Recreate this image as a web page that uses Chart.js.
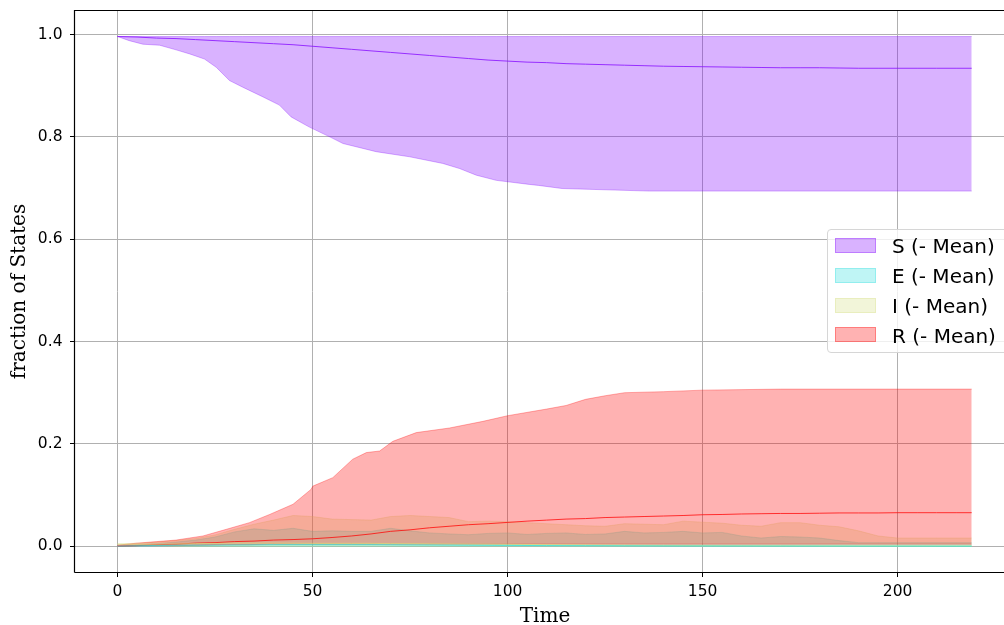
<!DOCTYPE html>
<html>
<head>
<meta charset="utf-8">
<title>SEIR runs</title>
<script src="https://cdn.jsdelivr.net/npm/chart.js"></script>
<style>
  html, body { margin: 0; padding: 0; background: #fff; overflow: hidden; }
  #wrap { position: relative; width: 1015px; height: 625px; }
  #legend {
    position: absolute; left: 827px; top: 229px; width: 200px; height: 124px;
    box-sizing: border-box; border: 1px solid #d6d6d6; border-radius: 4px;
    background: rgba(255, 255, 255, 0.8);
    font-family: 'DejaVu Sans', sans-serif; font-size: 20px; color: #000;
  }
  #legend .sw { position: absolute; left: 7px; width: 41px; height: 15px; box-sizing: border-box; border: 1px solid; }
  #legend .lbl { position: absolute; left: 64px; line-height: 21px; white-space: nowrap; }
</style>
</head>
<body>
<div id="wrap">
  <canvas id="chart" width="1015" height="625"></canvas>
  <div id="legend"></div>
</div>
<script>
// time grid for the E and I bands and all mean curves
const days = [
  0, 5, 10, 15, 20,
  25, 30, 35, 40, 45,
  50, 55, 60, 65, 70,
  75, 80, 85, 90, 95,
  100, 105, 110, 115, 120,
  125, 130, 135, 140, 145,
  150, 155, 160, 165, 170,
  175, 180, 185, 190, 195,
  200, 205, 210, 215, 219
];

// S: min / max over runs, sampled where the lower edge bends
const sDays = [0, 3, 6.5, 10.8, 15, 18.5, 22.3, 25.3, 28.7, 32.1, 37.3, 41.5, 44.5, 49.2,
  54.4, 57.8, 66.3, 74.9, 83.4, 87.7, 92, 97.1, 105.6, 108, 114, 136.4, 219];
const sLower = [0.996, 0.988, 0.981, 0.979, 0.970, 0.962, 0.952, 0.936, 0.910, 0.897, 0.878, 0.862, 0.839, 0.819,
  0.800, 0.787, 0.771, 0.761, 0.748, 0.738, 0.725, 0.715, 0.707, 0.705, 0.699, 0.694, 0.694];
const sUpper = [0.996, 0.996, 0.996, 0.996, 0.996, 0.996, 0.996, 0.996, 0.996, 0.996, 0.996, 0.996, 0.996, 0.996,
  0.996, 0.996, 0.996, 0.996, 0.996, 0.996, 0.996, 0.996, 0.996, 0.996, 0.996, 0.996, 0.996];
const sMean = [
  0.996, 0.995, 0.993, 0.992, 0.990,
  0.988, 0.986, 0.984, 0.982, 0.980,
  0.977, 0.974, 0.971, 0.968, 0.965,
  0.962, 0.959, 0.956, 0.953, 0.950,
  0.948, 0.946, 0.945, 0.943, 0.942,
  0.941, 0.940, 0.939, 0.938, 0.9375,
  0.937, 0.9365, 0.936, 0.9355, 0.935,
  0.935, 0.935, 0.9345, 0.934, 0.934,
  0.934, 0.934, 0.934, 0.934, 0.934
];

// E
const eLower = [
  0, 0, 0, 0, 0,
  0, 0, 0, 0, 0,
  0, 0, 0, 0, 0,
  0, 0, 0, 0, 0,
  0, 0, 0, 0, 0,
  0, 0, 0, 0, 0,
  0, 0, 0, 0, 0,
  0, 0, 0, 0, 0,
  0, 0, 0, 0, 0
];
const eUpper = [
  0.000, 0.003, 0.005, 0.008, 0.012,
  0.018, 0.028, 0.034, 0.031, 0.035,
  0.029, 0.030, 0.029, 0.029, 0.035,
  0.030, 0.026, 0.024, 0.0225, 0.025,
  0.026, 0.023, 0.025, 0.026, 0.023,
  0.024, 0.029, 0.026, 0.027, 0.029,
  0.026, 0.027, 0.020, 0.016, 0.019,
  0.018, 0.016, 0.011, 0.007, 0.007,
  0.007, 0.007, 0.007, 0.007, 0.007
];
const eMean = [
  0.000, 0.001, 0.0015, 0.0018, 0.002,
  0.0022, 0.0025, 0.0027, 0.003, 0.003,
  0.003, 0.003, 0.003, 0.003, 0.0028,
  0.0026, 0.0024, 0.0022, 0.002, 0.0018,
  0.0016, 0.0014, 0.0012, 0.0011, 0.001,
  0.0009, 0.0008, 0.0007, 0.0006, 0.0005,
  0.0005, 0.0004, 0.0004, 0.0003, 0.0003,
  0.0002, 0.0002, 0.0002, 0.0001, 0.0001,
  0.0001, 0.0001, 0, 0, 0
];

// I
const iLower = [
  0.004, 0.002, 0.001, 0, 0,
  0, 0, 0, 0, 0,
  0, 0, 0, 0, 0,
  0, 0, 0, 0, 0,
  0, 0, 0, 0, 0,
  0, 0, 0, 0, 0,
  0, 0, 0, 0, 0,
  0, 0, 0, 0, 0,
  0, 0, 0, 0, 0
];
const iUpper = [
  0.004, 0.006, 0.008, 0.011, 0.015,
  0.022, 0.033, 0.043, 0.051, 0.060,
  0.058, 0.053, 0.052, 0.051, 0.058,
  0.060, 0.058, 0.056, 0.048, 0.049,
  0.048, 0.046, 0.044, 0.042, 0.040,
  0.039, 0.044, 0.043, 0.042, 0.049,
  0.047, 0.045, 0.041, 0.039, 0.046,
  0.046, 0.041, 0.038, 0.030, 0.020,
  0.016, 0.016, 0.016, 0.016, 0.016
];
const iMean = [
  0.004, 0.004, 0.004, 0.0045, 0.005,
  0.0055, 0.006, 0.006, 0.006, 0.0058,
  0.0055, 0.0055, 0.0055, 0.0055, 0.0052,
  0.005, 0.0048, 0.0045, 0.0042, 0.004,
  0.0037, 0.0034, 0.003, 0.0027, 0.0024,
  0.0021, 0.0019, 0.0017, 0.0015, 0.0013,
  0.0011, 0.001, 0.0009, 0.0008, 0.0007,
  0.0006, 0.0005, 0.0004, 0.0003, 0.0003,
  0.0002, 0.0002, 0.0001, 0.0001, 0.0001
];

// R: min / max over runs
const rDays = [0, 5, 10, 15, 21.9, 27.9, 33.8, 39, 45, 49.6, 50.1, 55.2, 60.3, 63.8, 67.2, 70.6,
  76.6, 85.1, 93.7, 100, 110, 115, 120, 125, 130, 140, 150, 170, 219];
const rLower = [0, 0.001, 0.001, 0.001, 0.002, 0.003, 0.003, 0.004, 0.004, 0.004, 0.004, 0.004, 0.004, 0.004, 0.004, 0.004,
  0.004, 0.004, 0.004, 0.004, 0.004, 0.004, 0.004, 0.004, 0.004, 0.004, 0.004, 0.004, 0.004];
const rUpper = [0.002, 0.006, 0.009, 0.012, 0.020, 0.033, 0.046, 0.062, 0.082, 0.111, 0.1175, 0.134, 0.170, 0.183, 0.186, 0.205,
  0.222, 0.231, 0.244, 0.255, 0.268, 0.275, 0.287, 0.294, 0.300, 0.302, 0.305, 0.307, 0.307];
const rMean = [
  0, 0.001, 0.003, 0.004, 0.006,
  0.007, 0.009, 0.010, 0.012, 0.013,
  0.0145, 0.017, 0.020, 0.024, 0.029,
  0.032, 0.036, 0.039, 0.042, 0.044,
  0.0465, 0.049, 0.051, 0.053, 0.054,
  0.056, 0.057, 0.058, 0.059, 0.060,
  0.0615, 0.062, 0.063, 0.0635, 0.064,
  0.064, 0.0645, 0.065, 0.065, 0.065,
  0.0655, 0.0655, 0.0655, 0.0655, 0.0655
];

const stateNames = ['S', 'E', 'I', 'R'];
// rainbow colormap sampled at 0, 1/3, 2/3, 1
const stateColors = ['128,0,255', '42,221,221', '212,221,128', '255,0,0'];
const bands = [
  [sDays, sLower, sUpper, sMean],
  [days, eLower, eUpper, eMean],
  [days, iLower, iUpper, iMean],
  [rDays, rLower, rUpper, rMean],
];

const toPoints = (ts, arr) => ts.map((t, i) => ({ x: t, y: arr[i] }));

const datasets = [];
bands.forEach(([ts, lower, upper], k) => {
  const rgb = stateColors[k];
  const order = 10 - 2 * k; // later states sit on top
  datasets.push({
    label: stateNames[k] + ' min',
    data: toPoints(ts, lower),
    borderColor: `rgba(${rgb},0.3)`,
    borderWidth: 1,
    fill: false,
    order: order,
  });
  datasets.push({
    label: stateNames[k] + ' (- Mean)',
    data: toPoints(ts, upper),
    borderColor: `rgba(${rgb},0.3)`,
    backgroundColor: `rgba(${rgb},0.3)`,
    borderWidth: 1,
    fill: datasets.length - 1,
    order: order - 1,
  });
});
bands.forEach(([, , , mean], k) => {
  datasets.push({
    label: stateNames[k] + ' mean',
    data: toPoints(days, mean),
    borderColor: `rgba(${stateColors[k]},0.75)`,
    borderWidth: 1,
    fill: false,
    order: 0,
  });
});

// box around the axes, drawn over the data like matplotlib spines
const spines = {
  id: 'spines',
  afterDraw(chart) {
    const { ctx, chartArea: a } = chart;
    ctx.save();
    ctx.strokeStyle = '#000';
    ctx.lineWidth = 1.2;
    ctx.beginPath();
    ctx.moveTo(a.left - 0.5, a.bottom + 0.5);
    ctx.lineTo(a.left - 0.5, a.top - 0.5);
    ctx.lineTo(a.right, a.top - 0.5);
    ctx.moveTo(a.left - 0.5, a.bottom + 0.5);
    ctx.lineTo(a.right, a.bottom + 0.5);
    ctx.stroke();
    ctx.restore();
  },
};

const tickFont = { family: 'DejaVu Sans', size: 15.5 };
const gridStyle = { color: '#b0b0b0', lineWidth: 1, tickColor: '#000', tickLength: 5 };

new Chart(document.getElementById('chart').getContext('2d'), {
  type: 'line',
  data: { datasets },
  options: {
    responsive: false,
    animation: false,
    elements: { point: { radius: 0, hoverRadius: 0 }, line: { tension: 0 } },
    layout: { padding: { top: 11, left: 0, right: 0, bottom: 0 } },
    plugins: { legend: { display: false }, tooltip: { enabled: false } },
    scales: {
      x: {
        type: 'linear',
        min: -10.9,
        max: 230.1,
        grid: gridStyle,
        border: { display: false },
        ticks: { stepSize: 50, includeBounds: false, font: tickFont, color: '#000', padding: 6, maxRotation: 0 },
        title: {
          display: true, text: 'Time', color: '#000',
          font: { family: 'DejaVu Serif', size: 20, lineHeight: 0.8 },
          padding: 0,
        },
        afterFit: s => { s.height = 53; s.paddingLeft = 0; s.paddingRight = 0; },
      },
      y: {
        type: 'linear',
        min: -0.0504,
        max: 1.0459,
        grid: gridStyle,
        border: { display: false },
        ticks: {
          stepSize: 0.2, includeBounds: false, font: tickFont, color: '#000', padding: 7.5,
          callback: v => v.toFixed(1),
        },
        title: {
          display: true, text: 'fraction of States', color: '#000',
          font: { family: 'DejaVu Serif', size: 20, lineHeight: 1 },
          padding: { top: 9.5, bottom: 0 },
        },
        afterFit: s => { s.width = 75; s.paddingTop = 0; s.paddingBottom = 0; },
      },
    },
  },
  plugins: [spines],
});

// legend: one filled patch per state
const legend = document.getElementById('legend');
stateNames.forEach((name, k) => {
  const top = 8 + 29.8 * k;
  const sw = document.createElement('div');
  sw.className = 'sw';
  sw.style.top = top + 'px';
  sw.style.background = `rgba(${stateColors[k]},0.3)`;
  sw.style.borderColor = `rgba(${stateColors[k]},0.3)`;
  legend.appendChild(sw);
  const lbl = document.createElement('span');
  lbl.className = 'lbl';
  lbl.style.top = (top - 1.6) + 'px';
  lbl.textContent = name + ' (- Mean)';
  legend.appendChild(lbl);
});
</script>
</body>
</html>
